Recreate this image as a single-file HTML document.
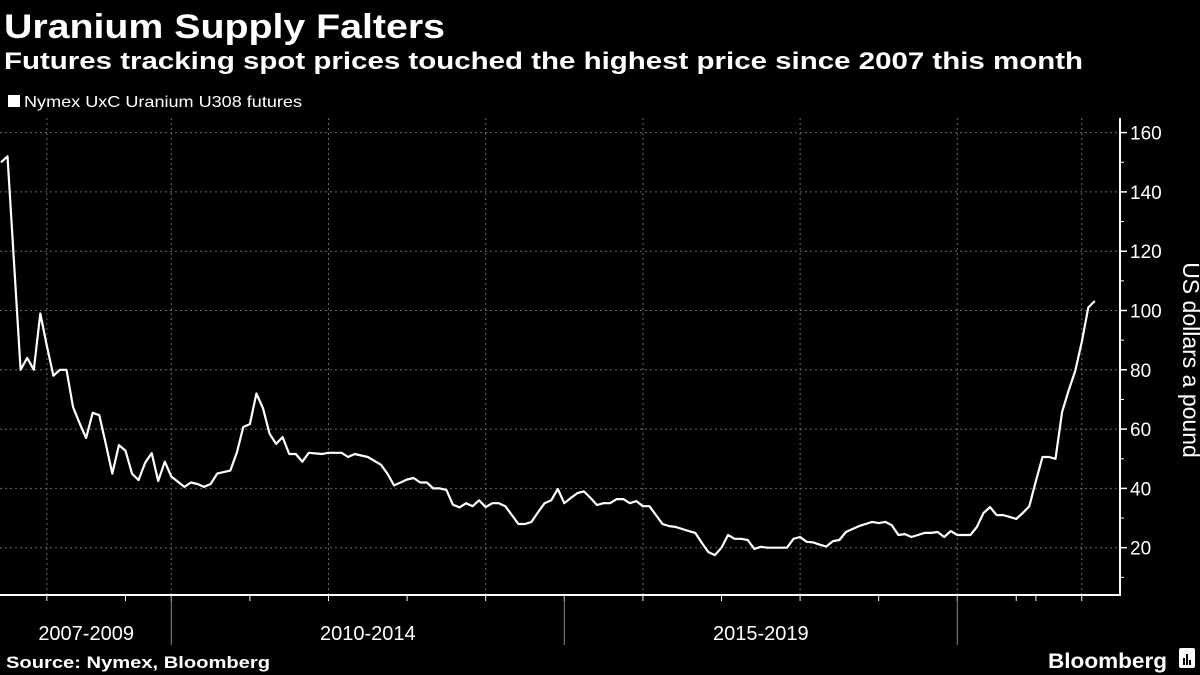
<!DOCTYPE html>
<html><head><meta charset="utf-8"><style>
html,body{margin:0;padding:0;background:#000;}
svg{display:block;font-family:"Liberation Sans",sans-serif;}
</style></head><body>
<svg id="chart" width="1200" height="675" viewBox="0 0 1200 675" xmlns="http://www.w3.org/2000/svg">
<rect width="1200" height="675" fill="#000"/>
<text x="4" y="38" fill="#fff" font-weight="bold" font-size="34" textLength="441" lengthAdjust="spacingAndGlyphs">Uranium Supply Falters</text>
<text x="4" y="69" fill="#fff" font-weight="bold" font-size="24" textLength="1079" lengthAdjust="spacingAndGlyphs">Futures tracking spot prices touched the highest price since 2007 this month</text>
<g>
<rect x="8" y="95" width="12" height="12" fill="#fff"/>
<text x="24" y="107" fill="#fff" font-size="16" textLength="278" lengthAdjust="spacingAndGlyphs">Nymex UxC Uranium U308 futures</text>
</g>
<g id="grid"></g>
<g id="axes"></g>
<path id="line" fill="none" stroke="#fff" stroke-width="2.2" stroke-linejoin="round"/>
<text x="1183" y="360" fill="#fff" font-size="23" text-anchor="middle" transform="rotate(90 1183 360)">US dollars a pound</text>
<text x="6" y="668" fill="#fff" font-weight="bold" font-size="17" textLength="264" lengthAdjust="spacingAndGlyphs">Source: Nymex, Bloomberg</text>
<text x="1048" y="668" fill="#fff" font-weight="bold" font-size="21" textLength="119" lengthAdjust="spacingAndGlyphs">Bloomberg</text>
<g>
<rect x="1179" y="648" width="16" height="20" rx="2" fill="#fff"/>
<rect x="1183" y="658" width="2" height="7" fill="#000"/><rect x="1186" y="654" width="2" height="11" fill="#000"/><rect x="1189" y="660" width="2" height="5" fill="#000"/>
</g>
</svg>
<script>
const months=[0,1,3,4,5,6,7,8,9,10,11,12,13,14,15,16,17,18,19,20,21,22,23,24,25,26,28,29,30,31,32,33,35,36,37,38,39,40,41,42,43,44,45,46,47,49,50,52,53,54,56,58,59,60,61,62,63,64,65,66,67,68,69,70,71,72,73,74,75,76,77,78,79,80,81,82,83,84,85,86,87,88,89,90,91,92,93,94,95,96,97,98,99,100,101,102,103,104,105,106,107,108,109,110,111,112,113,114,115,116,117,120,121,122,123,124,125,126,127,128,129,130,131,132,133,134,135,136,137,138,139,140,141,142,143,144,145,146,148,149,150,151,152,153,154,155,156,157,158,159,160,161,162,163,164,165,166,167];
const prices=[150,152,80,84,80,99,88,78,80,80,67.5,62,57,65.5,64.7,55,45,54.6,52.7,45,42.8,48.6,51.9,42.5,49,44,40.5,42,41.5,40.5,41.5,45,46,52,60.7,61.7,72,67,58.4,55,57.3,51.6,51.6,49,52,51.6,52,52,50.6,51.6,50.6,48,45,41,42,43,43.5,42,42,40,40,39.5,34.5,33.6,35,34,36,33.7,35,35,34,31,28,28,28.7,32,35,36,39.8,35,36.8,38.4,39,36.8,34.4,35,35,36.4,36.4,35,35.7,34,34,31,28,27.3,27,26.3,25.6,25,21.6,18.5,17.5,20,24.3,23,23,22.6,19.6,20.3,20,20,23,23.6,22,21.8,21,20.4,22.2,22.6,25.3,26.3,27.3,28,28.7,28.3,28.7,27.6,24.3,24.6,23.6,24.3,25,25,25.3,23.6,25.6,24.3,24.3,27,31.7,33.7,31,31,30.4,29.7,31.7,34,42.5,50.6,50.6,50,65.8,73,79.6,89.4,101,103.2];
const yTicks=[20,40,60,80,100,120,140,160];
const yMinor=[10,30,50,70,90,110,130,150];
const periodLabels=["2007-2009","2010-2014","2015-2019"];
const periodStart=[0,26,86,146];
const gridMonths=[7,26,50,74,98,122,146,165];
const tickMonths=[7,19,26,38,50,62,74,86,98,110,122,134,146,155,158,165];

const NS="http://www.w3.org/2000/svg";
const X0=1,XS=6.55,Y0=607,YS=2.965,RIGHT=1120,BOTTOM=595,TOP=118;
function xs(m){return X0+m*XS;}
function ys(v){return Y0-v*YS;}
function mk(tag,attrs,parent){const e=document.createElementNS(NS,tag);for(const k in attrs)e.setAttribute(k,attrs[k]);parent.appendChild(e);return e;}
const grid=document.getElementById('grid'),axes=document.getElementById('axes');

yTicks.forEach(v=>{
  const l=mk('line',{x1:0,x2:RIGHT,y1:ys(v),y2:ys(v),stroke:'#6a6a6a','stroke-width':1,'stroke-dasharray':'2,3'},grid);
  
  
  const t=mk('line',{x1:RIGHT,x2:RIGHT+7,y1:ys(v),y2:ys(v),stroke:'#fff','stroke-width':1.5},axes);
  
  
  const lb=mk('text',{x:RIGHT+10,y:ys(v)+7,fill:'#fff','font-size':19},axes);
  lb.textContent=v;
  
  
});
yMinor.forEach(v=>{
  const t=mk('line',{x1:RIGHT,x2:RIGHT+4,y1:ys(v),y2:ys(v),stroke:'#fff','stroke-width':1},axes);
  
  
});
gridMonths.forEach(m=>{
  const l=mk('line',{x1:xs(m),x2:xs(m),y1:TOP,y2:BOTTOM,stroke:'#6a6a6a','stroke-width':1,'stroke-dasharray':'2,3'},grid);
  
  
});
tickMonths.forEach(m=>{
  const t=mk('line',{x1:xs(m),x2:xs(m),y1:BOTTOM,y2:BOTTOM+6,stroke:'#fff','stroke-width':1},axes);
  
  
});
periodStart.slice(1).forEach(m=>{
  const s=mk('line',{x1:xs(m),x2:xs(m),y1:BOTTOM,y2:645,stroke:'#888','stroke-width':1},axes);
  
  
});
periodLabels.forEach((lab,i)=>{
  const cx=(xs(periodStart[i])+xs(periodStart[i+1]))/2;
  const t=mk('text',{x:cx,y:640,fill:'#fff','font-size':20,'text-anchor':'middle'},axes);
  t.textContent=lab;
  
  
});
const ax=mk('line',{x1:0,x2:RIGHT+1,y1:BOTTOM,y2:BOTTOM,stroke:'#fff','stroke-width':2},axes);


const ay=mk('line',{x1:RIGHT,x2:RIGHT,y1:TOP,y2:BOTTOM,stroke:'#fff','stroke-width':2},axes);



document.getElementById('line').setAttribute('d',months.map((m,i)=>(i?'L':'M')+xs(m).toFixed(1)+','+ys(prices[i]).toFixed(1)).join(' '));
</script>
</body></html>
